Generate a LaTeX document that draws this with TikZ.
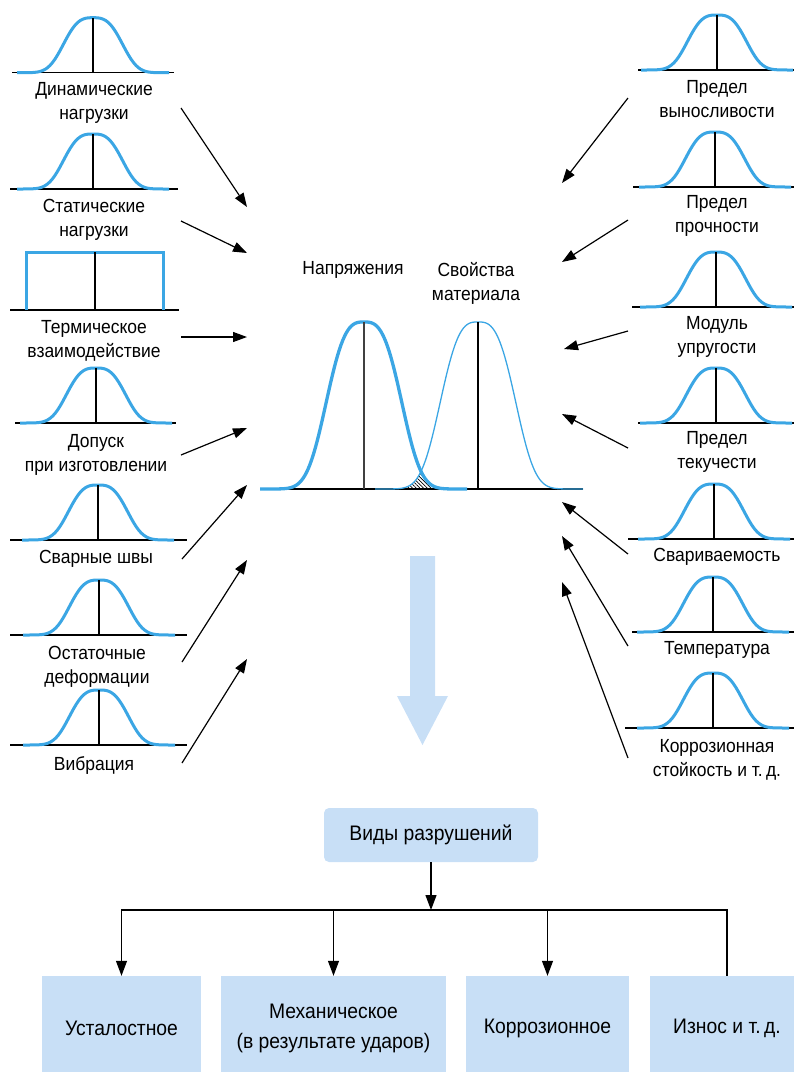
\documentclass[tikz,border=0pt]{standalone}
\usepackage{fontspec}
\setmainfont{Liberation Sans}[FakeStretch=0.92]
\usetikzlibrary{arrows.meta, patterns.meta}
\definecolor{CurveBlue}{RGB}{59, 166, 228}
\definecolor{PaleBlue}{RGB}{200, 223, 246}
\definecolor{AxisGray}{RGB}{64, 64, 64}

\begin{document}
\begin{tikzpicture}[x=1pt,y=-1pt,
  lbl/.style={align=center, inner sep=0pt, font=\fontsize{19}{24}\selectfont},
  bellline/.style={CurveBlue, line width=3pt},
  axisline/.style={black, line width=1.2pt},
  inarrow/.style={black, line width=1.2pt, -{Triangle[length=14pt,width=10pt]}},
  flowarrow/.style={black, line width=1.2pt, -{Triangle[length=15pt,width=11pt]}},
  failbox/.style={fill=PaleBlue, align=center, inner sep=0pt, minimum height=104pt,
    font=\fontsize{21}{30}\selectfont}]
  \path[use as bounding box] (0,0) rectangle (794,1072);
  \clip (0,0) rectangle (794,1072);

  % small distributions: centre / baseline / left end / right end
  \foreach \cx/\by/\xl/\xr in {93/72.7/12/174, 93/189/10/178, 96/423/15/176,
      98/540/10/187, 99/635/10/187, 99/745/10/187,
      717/70/638/800, 715/187/633/800, 716/307/632/800, 716/423/638/800,
      714/539/628/800, 713/632/632/800, 713/728/625/800}{
    \draw[axisline] (\xl,\by) -- (\xr,\by);
    \draw[bellline] plot[domain=-76:76, samples=61]
      ({\cx+\x},{\by-55*exp(-abs(\x/34)*(\x/34)*(\x/34))});
    \draw[axisline] (\cx,\by) -- (\cx,\by-55);
  }
  % rectangular distribution
  \draw[axisline] (10,310) -- (179,310);
  \draw[bellline] (26,310) -- (26,252) -- (163,252) -- (163,310);
  \draw[axisline] (95,310) -- (95,252);

  % left labels
  \node[lbl] (dynLoad) at (94,103) {Динамические\\нагрузки};
  \node[lbl] (statLoad) at (94,220) {Статические\\нагрузки};
  \node[lbl] (thermal) at (94,341) {Термическое\\взаимодействие};
  \node[lbl] (tolerance) at (96,455) {Допуск\\при изготовлении};
  \node[lbl] (welds) at (96,559) {Сварные швы};
  \node[lbl] (residual) at (97,667) {Остаточные\\деформации};
  \node[lbl] (vibration) at (94,765) {Вибрация};

  % right labels
  \node[lbl] (fatigue) at (717,99) {Предел\\выносливости};
  \node[lbl] (strength) at (717,216) {Предел\\прочности};
  \node[lbl] (modulus) at (717,337) {Модуль\\упругости};
  \node[lbl] (yield) at (717,452) {Предел\\текучести};
  \node[lbl] (weldab) at (717,557) {Свариваемость};
  \node[lbl] (temper) at (717,650) {Температура};
  \node[lbl] (corros) at (717,760) {Коррозионная\\стойкость и т.\,д.};

  % central overlap of the two distributions
  \node[lbl] (stressLbl) at (353,270) {Напряжения};
  \node[lbl] (materialLbl) at (476,283) {Свойства\\материала};
  \fill[pattern={Lines[angle=-45,distance=2.6pt,line width=0.7pt]}]
    (395,489) -- plot[domain=395:421.2, samples=30]
      (\x,{489-167*exp(-abs((\x-478)/43.5)*((\x-478)/43.5)*((\x-478)/43.5))})
    -- plot[domain=421.2:448, samples=30]
      (\x,{489-167*exp(-abs((\x-364)/43.5)*((\x-364)/43.5)*((\x-364)/43.5))})
    -- (448,489) -- cycle;
  \draw[axisline] (260,489) -- (583,489);
  \draw[CurveBlue, line width=3.3pt] plot[domain=-104:103, samples=121]
    ({364+\x},{489-167*exp(-abs(\x/43.5)*(\x/43.5)*(\x/43.5))});
  \draw[CurveBlue, line width=1.3pt] plot[domain=-103:105, samples=121]
    ({478+\x},{489-167*exp(-abs(\x/43.5)*(\x/43.5)*(\x/43.5))});
  \draw[AxisGray, line width=1.6pt] (364,489) -- (364,322);
  \draw[axisline] (478,489) -- (478,322);

  % influence arrows
  \foreach \i/\tx/\ty/\hx/\hy in {1/181/108/247/207, 2/181/221/247/253,
      3/181/337/247/337, 4/181/455/247/428, 5/182/559/247/485,
      6/182/662/247/560, 7/182/763/247/659}{
    \coordinate (srcL\i) at (\tx,\ty);
    \coordinate (dstL\i) at (\hx,\hy);
    \draw[inarrow] (srcL\i) -- (dstL\i);
  }
  \foreach \i/\tx/\ty/\hx/\hy in {1/628/98/562/183, 2/628/220/562/262,
      3/628/331/564/349, 4/628/448/562/414, 5/628/554/562/502,
      6/628/646/562/536, 7/628/758/562/582}{
    \coordinate (srcR\i) at (\tx,\ty);
    \coordinate (dstR\i) at (\hx,\hy);
    \draw[inarrow] (srcR\i) -- (dstR\i);
  }

  % big arrow
  \fill[PaleBlue] (410,556) -- (435,556) -- (435,696) -- (448,696)
    -- (422.5,745) -- (397,696) -- (410,696) -- cycle;

  % failure tree
  \node[fill=PaleBlue, rounded corners=5pt, minimum width=214pt, minimum height=54pt,
    inner sep=0pt, font=\fontsize{21}{30}\selectfont] (kinds) at (431,835) {Виды разрушений};
  \coordinate (split) at (431,910);
  \node[failbox, minimum width=159pt] (fatigueF) at (121.5,1028) {Усталостное};
  \node[failbox, minimum width=225pt] (mechF) at (333.5,1028) {Механическое\\(в результате ударов)};
  \node[failbox, minimum width=163pt] (corrF) at (547.5,1028) {Коррозионное};
  \node[failbox, minimum width=154pt] (wearF) at (727,1028) {Износ и т.\,д.};
  \draw[flowarrow] (kinds) -- (split);
  \draw[flowarrow] (split) -| (fatigueF);
  \draw[flowarrow] (split) -| (mechF);
  \draw[flowarrow] (split) -| (corrF);
  \draw[axisline] (split) -| (wearF);
\end{tikzpicture}
\end{document}
